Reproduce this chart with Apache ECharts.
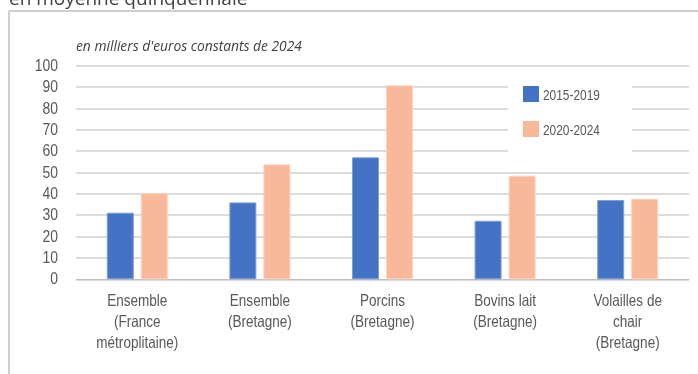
<!DOCTYPE html>
<html>
<head>
<meta charset="utf-8">
<script src="https://cdn.jsdelivr.net/npm/echarts@6/dist/echarts.min.js"></script>
<style>
  html, body { margin: 0; padding: 0; background: #fff; }
  #chart { width: 698px; height: 374px; }
</style>
</head>
<body>
<div id="chart"></div>
<script>
// Revenu moyen par exploitation, en milliers d'euros constants de 2024
const categories = [
  'Ensemble\n(France\nmétroplitaine)',
  'Ensemble\n(Bretagne)',
  'Porcins\n(Bretagne)',
  'Bovins lait\n(Bretagne)',
  'Volailles de\nchair\n(Bretagne)'
];
const seriesNames = ['2015-2019', '2020-2024'];
const values2015_2019 = [31.2, 36.0, 57.1, 27.4, 37.1];
const values2020_2024 = [40.3, 53.8, 90.8, 48.5, 37.7];
const yTickValues = [0, 10, 20, 30, 40, 50, 60, 70, 80, 90, 100];

const chart = echarts.init(document.getElementById('chart'), null, { renderer: 'canvas' });

const labelColor = '#595959';
const gridColor = '#d0d0d0';
const labelFont = '"Liberation Sans", Arial, sans-serif';
const condense = 0.82; // horizontal squeeze for a narrow Arial look

// fixed decorations: frame, heading, unit note, legend panel
const staticGraphics = [
  { id: 'frameTop', type: 'line', shape: { x1: 9, y1: 11, x2: 698, y2: 11 }, style: { stroke: '#cfcfcf', lineWidth: 2 } },
  { id: 'frameLeft', type: 'line', shape: { x1: 9, y1: 11, x2: 9, y2: 374 }, style: { stroke: '#cfcfcf', lineWidth: 2 } },
  { id: 'heading', type: 'text', left: 9, top: -10, style: { text: 'en moyenne quinquennale', font: '19px "Open Sans"', fill: '#404040' } },
  { id: 'unit', type: 'text', left: 76, top: 40, style: { text: "en milliers d'euros constants de 2024", font: 'italic 13.8px "Open Sans"', fill: '#404040' } },
  { id: 'legendPanel', type: 'rect', shape: { x: 508, y: 72, width: 124, height: 80 }, style: { fill: '#ffffff' }, z: 5 }
];

chart.setOption({
  animation: false,
  backgroundColor: '#ffffff',
  graphic: staticGraphics,
  legend: {
    orient: 'vertical',
    left: 523,
    top: 86,
    padding: 0,
    itemWidth: 16,
    itemHeight: 16,
    itemGap: 19,
    icon: 'rect',
    itemStyle: { borderWidth: 0 },
    z: 10,
    formatter: () => '',
    data: seriesNames
  },
  grid: { left: 76, right: 9, top: 65.7, bottom: 94.7, containLabel: false },
  xAxis: {
    type: 'category',
    data: categories,
    axisLine: { show: true, lineStyle: { color: '#bfbfbf', width: 1 } },
    axisTick: { show: false },
    axisLabel: { show: false }
  },
  yAxis: {
    type: 'value',
    min: yTickValues[0],
    max: yTickValues[yTickValues.length - 1],
    interval: yTickValues[1] - yTickValues[0],
    axisLine: { show: false },
    axisTick: { show: false },
    axisLabel: { show: false },
    splitLine: { lineStyle: { color: gridColor, width: 1.5 } }
  },
  series: [
    {
      name: seriesNames[0],
      type: 'bar',
      data: values2015_2019,
      barWidth: 27,
      barGap: '26%',
      itemStyle: { color: '#4472c4', borderColor: '#7f9fd6', borderWidth: 1 }
    },
    {
      name: seriesNames[1],
      type: 'bar',
      data: values2020_2024,
      barWidth: 27,
      barGap: '26%',
      itemStyle: { color: '#f8b89a', borderColor: '#fcd2bf', borderWidth: 1 }
    }
  ]
});

// condensed tick labels, placed with the axes' own scales
const labelGraphics = [];
const axisBottom = chart.convertToPixel({ yAxisIndex: 0 }, 0);

yTickValues.forEach((v, i) => {
  const y = chart.convertToPixel({ yAxisIndex: 0 }, v);
  labelGraphics.push({
    id: 'ytick' + i, type: 'text', x: 58, y: y + 0.5, scaleX: condense,
    style: { text: String(v), font: '17px ' + labelFont, fill: labelColor, align: 'right', verticalAlign: 'middle' }
  });
});

categories.forEach((c, i) => {
  const x = chart.convertToPixel({ xAxisIndex: 0 }, i);
  labelGraphics.push({
    id: 'xcat' + i, type: 'text', x: x, y: axisBottom + 12, scaleX: condense,
    style: { text: c, font: '16.5px ' + labelFont, lineHeight: 21, fill: labelColor, align: 'center', verticalAlign: 'top' }
  });
});

seriesNames.forEach((name, i) => {
  labelGraphics.push({
    id: 'legendText' + i, type: 'text', x: 543, y: 95.5 + i * 35, scaleX: condense, z: 10,
    style: { text: name, font: '14.5px ' + labelFont, fill: labelColor, align: 'left', verticalAlign: 'middle' }
  });
});

chart.setOption({ graphic: staticGraphics.concat(labelGraphics) });
</script>
</body>
</html>
